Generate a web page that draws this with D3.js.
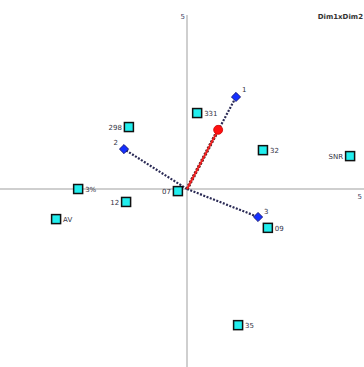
<!DOCTYPE html>
<html>
<head>
<meta charset="utf-8">
<script src="https://cdn.jsdelivr.net/npm/d3@7"></script>
<style>
  html, body { margin: 0; padding: 0; background: #fff; }
  svg { display: block; font-family: "DejaVu Sans", sans-serif; }
</style>
</head>
<body>
<svg id="chart" width="364" height="367"></svg>
<script>
// Row points (observations)
const rowLabels = ["331", "298", "32", "SNR", "3%", "12", "07", "AV", "09", "35"];
const rowX = [0.29, -1.66, 2.17, 4.66, -3.11, -1.74, -0.26, -3.74, 2.31, 1.46];
const rowY = [2.17, 1.77, 1.11, 0.94, 0.00, -0.37, -0.06, -0.86, -1.11, -3.89];
const rowSide = ["r", "l", "r", "l", "r", "l", "l", "r", "r", "r"];

// Column points (variables), drawn as vectors from the origin
const colLabels = ["1", "2", "3"];
const colX = [1.40, -1.80, 2.03];
const colY = [2.63, 1.14, -0.80];

// Supplementary vector
const suppX = [0.89];
const suppY = [1.69];

// Axis end labels and title
const axisLabels = ["5", "5"];
const titleText = "Dim1xDim2";

const svg = d3.select("#chart");
const x = d3.scaleLinear().domain([-5, 5]).range([12, 362]);
const y = d3.scaleLinear().domain([-5, 5]).range([364, 14]);

// axes through the origin
svg.append("line")
  .attr("x1", 0).attr("x2", 364)
  .attr("y1", y(0)).attr("y2", y(0))
  .attr("stroke", "#cfcfcf").attr("stroke-width", 2);
svg.append("line")
  .attr("x1", x(0)).attr("x2", x(0))
  .attr("y1", 15).attr("y2", 367)
  .attr("stroke", "#cfcfcf").attr("stroke-width", 2);

svg.append("text").attr("x", x(0) - 2).attr("y", 19)
  .attr("text-anchor", "end").attr("font-size", 7).attr("fill", "#446")
  .text(axisLabels[1]);
svg.append("text").attr("x", 362).attr("y", y(0) + 10)
  .attr("text-anchor", "end").attr("font-size", 7).attr("fill", "#446")
  .text(axisLabels[0]);
svg.append("text").attr("x", 363).attr("y", 19)
  .attr("text-anchor", "end").attr("font-size", 7).attr("fill", "#333")
  .attr("font-weight", "bold")
  .text(titleText);

// column vectors
const cols = colLabels.map((l, i) => ({ l, x: colX[i], y: colY[i] }));
svg.selectAll(".vec").data(cols).enter().append("line")
  .attr("x1", x(0)).attr("y1", y(0))
  .attr("x2", d => x(d.x)).attr("y2", d => y(d.y))
  .attr("stroke", "#2a2a55").attr("stroke-width", 2.2)
  .attr("stroke-dasharray", "2,1.5");

// supplementary vector: dark edge under a red core
const supp = suppX.map((v, i) => ({ x: v, y: suppY[i] }));
svg.selectAll(".suppEdge").data(supp).enter().append("line")
  .attr("x1", x(0)).attr("y1", y(0))
  .attr("x2", d => x(d.x)).attr("y2", d => y(d.y))
  .attr("stroke", "#552222").attr("stroke-width", 3.5)
  .attr("stroke-dasharray", "2,1.5");
svg.selectAll(".supp").data(supp).enter().append("line")
  .attr("x1", x(0)).attr("y1", y(0))
  .attr("x2", d => x(d.x)).attr("y2", d => y(d.y))
  .attr("stroke", "#f02020").attr("stroke-width", 2);
svg.selectAll(".suppPt").data(supp).enter().append("circle")
  .attr("cx", d => x(d.x)).attr("cy", d => y(d.y)).attr("r", 4.5)
  .attr("fill", "#ff1010").attr("stroke", "#c00").attr("stroke-width", 0.8);

// row squares
const rows = rowLabels.map((l, i) => ({ l, x: rowX[i], y: rowY[i], s: rowSide[i] }));
const g = svg.selectAll(".row").data(rows).enter().append("g");
g.append("rect")
  .attr("x", d => x(d.x) - 4.5).attr("y", d => y(d.y) - 4.5)
  .attr("width", 9).attr("height", 9)
  .attr("fill", "#22eeee").attr("stroke", "#111").attr("stroke-width", 1.5);
g.append("text")
  .attr("x", d => d.s === "r" ? x(d.x) + 7 : x(d.x) - 7)
  .attr("y", d => y(d.y) + 3)
  .attr("text-anchor", d => d.s === "r" ? "start" : "end")
  .attr("font-size", 7).attr("fill", "#334")
  .text(d => d.l);

// column diamonds (squares turned 45 degrees)
const diamond = d3.symbol().type(d3.symbolSquare).size(42);
svg.selectAll(".colPt").data(cols).enter().append("path")
  .attr("d", diamond)
  .attr("transform", d => `translate(${x(d.x)},${y(d.y)}) rotate(45)`)
  .attr("fill", "#1530ff").attr("stroke", "#10106a").attr("stroke-width", 0.8);
const colOff = [[6, -5, "start"], [-6, -4, "end"], [6, -3, "start"]];
svg.selectAll(".colLab").data(cols).enter().append("text")
  .attr("x", (d, i) => x(d.x) + colOff[i][0])
  .attr("y", (d, i) => y(d.y) + colOff[i][1])
  .attr("text-anchor", (d, i) => colOff[i][2])
  .attr("font-size", 7).attr("fill", "#334")
  .text(d => d.l);
</script>
</body>
</html>
